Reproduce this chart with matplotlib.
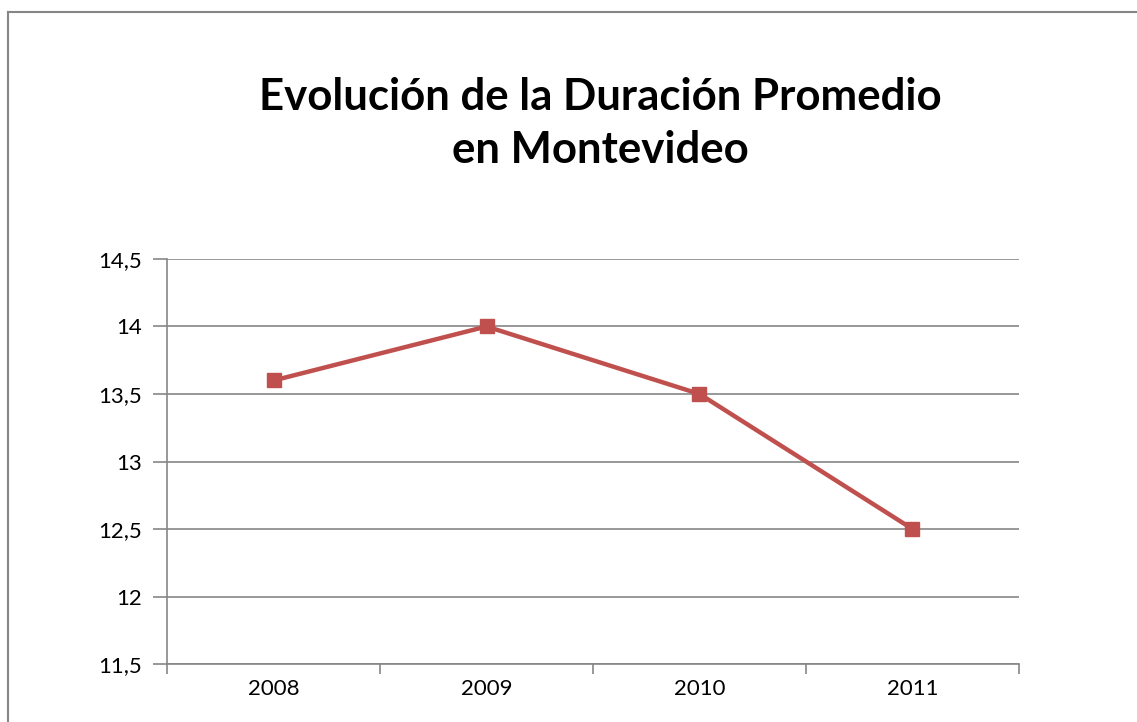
import matplotlib.pyplot as plt
from matplotlib.lines import Line2D
from matplotlib.ticker import FixedLocator, NullFormatter

# Datos
anios = ["2008", "2009", "2010", "2011"]
duracion = [13.6, 14.0, 13.5, 12.5]
y_ticks = [11.5, 12, 12.5, 13, 13.5, 14, 14.5]

plt.rcParams['font.family'] = ['Lato', 'DejaVu Sans']

fig = plt.figure(figsize=(11.37, 7.22), dpi=100)
ax = fig.add_axes([0.1469, 0.0803, 0.7493, 0.561])

# Marco del área del gráfico (sólo se ven borde izquierdo y superior)
x0 = 7.5 / 1137
y0 = 1 - 11.5 / 722
fig.add_artist(Line2D([x0, x0], [0, y0], transform=fig.transFigure,
                      color='#868686', linewidth=1.5))
fig.add_artist(Line2D([x0, 1], [y0, y0], transform=fig.transFigure,
                      color='#868686', linewidth=1.5))

x = list(range(len(anios)))
ax.plot(x, duracion, color='#C0504D', linewidth=3.2, marker='s',
        markersize=10, markeredgecolor='#C0504D', zorder=3)

ax.set_xlim(-0.5, len(anios) - 0.5)
ax.set_ylim(11.5, 14.5)

# Eje Y
ax.set_yticks(y_ticks)
ax.set_yticklabels([f"{v:g}".replace('.', ',') for v in y_ticks], fontsize=16)
ax.yaxis.grid(True, color='#868686', linewidth=1.2)
ax.set_axisbelow(True)

# Eje X: marcas en los límites de categoría, etiquetas centradas
ax.xaxis.set_major_locator(FixedLocator([i - 0.5 for i in range(len(anios) + 1)]))
ax.xaxis.set_major_formatter(NullFormatter())
ax.xaxis.set_minor_locator(FixedLocator(x))
ax.set_xticklabels(anios, minor=True, fontsize=16)
ax.tick_params(axis='x', which='minor', length=0, pad=11)
ax.tick_params(axis='x', which='major', length=7, color='#868686', width=1.2)
ax.tick_params(axis='y', length=10, color='#868686', width=1.2, pad=8)

for lado in ['top', 'right']:
    ax.spines[lado].set_visible(False)
for lado in ['left', 'bottom']:
    ax.spines[lado].set_color('#868686')
    ax.spines[lado].set_linewidth(1.2)

fig.text(0.528, 0.829, "Evolución de la Duración Promedio\nen Montevideo",
         ha='center', va='center', fontsize=31.5, fontweight='bold',
         linespacing=1.38)

fig.savefig("out.png", dpi=100)
plt.close(fig)
